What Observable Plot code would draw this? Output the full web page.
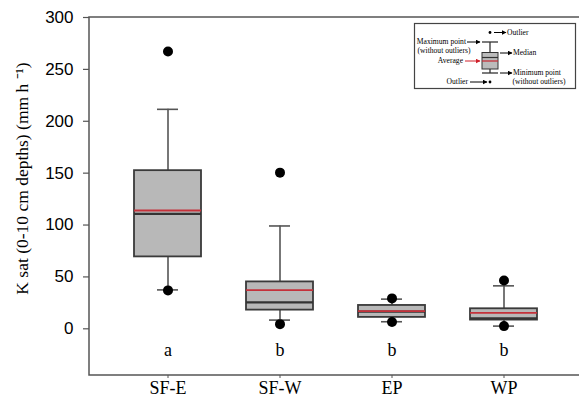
<!DOCTYPE html>
<html>
<head>
<meta charset="utf-8">
<script src="https://cdn.jsdelivr.net/npm/d3@7"></script>
<script src="https://cdn.jsdelivr.net/npm/@observablehq/plot@0.6"></script>
<style>
  html, body { margin: 0; padding: 0; background: #fff; overflow: hidden; }
  #wrap { width: 579px; height: 399px; overflow: hidden; }
  #wrap svg { display: block; }
</style>
</head>
<body>
<div id="wrap"></div>
<script>
// ---- data ----
const categories  = ["SF-E", "SF-W", "EP", "WP"];
const whiskerLow  = [37.5, 8.4, 6.8, 2.6];
const q1          = [69.3, 18.0, 11.0, 8.4];
const median      = [110.7, 25.4, 16.6, 10.0];
const mean        = [114.0, 37.2, 17.0, 15.4];
const q3          = [152.4, 45.2, 22.5, 19.3];
const whiskerHigh = [211.5, 99.1, 28.6, 41.4];
const outlierCat  = ["SF-E", "SF-E", "SF-W", "SF-W", "EP", "EP", "WP", "WP"];
const outlierVal  = [267.3, 37.0, 150.5, 4.5, 29.3, 6.5, 46.6, 2.6];
const letters     = ["a", "b", "b", "b"];
const yTicks      = [0, 50, 100, 150, 200, 250, 300];
const yLabel      = "K sat (0-10 cm depths) (mm h \u207B\u00B9)";

const boxes = categories.map((c, i) => ({
  cat: c, lo: whiskerLow[i], q1: q1[i], med: median[i], mean: mean[i],
  q3: q3[i], hi: whiskerHigh[i], letter: letters[i]
}));
const outliers = outlierCat.map((c, i) => ({cat: c, v: outlierVal[i]}));

const serif = "'Liberation Serif', 'Times New Roman', serif";
const sans = "'Liberation Sans', Arial, sans-serif";
const capInset = 23;

// open frame: top, left and bottom edges only
function openFrame(index, scales, values, dims) {
  const l = dims.marginLeft, r = dims.width - dims.marginRight;
  const t = dims.marginTop, b = dims.height - dims.marginBottom;
  const p = document.createElementNS("http://www.w3.org/2000/svg", "path");
  p.setAttribute("d", `M${r},${t}H${l}V${b}H${r}`);
  p.setAttribute("fill", "none");
  p.setAttribute("stroke", "#555");
  p.setAttribute("stroke-width", 1.5);
  return p;
}

// inset schematic legend, drawn inside the same SVG
function insetLegend() {
  const g = d3.create("svg:g");
  const defs = g.append("defs");
  [["ahK", "#000"], ["ahR", "#d0202a"]].forEach(([id, col]) => {
    defs.append("marker").attr("id", id).attr("viewBox", "0 0 10 10")
      .attr("refX", 9).attr("refY", 5).attr("markerWidth", 5).attr("markerHeight", 5)
      .attr("orient", "auto").append("path").attr("d", "M0,0 L10,5 L0,10 z").attr("fill", col);
  });
  g.append("rect").attr("x", 414.5).attr("y", 23.5).attr("width", 161).attr("height", 65)
    .attr("fill", "#fff").attr("stroke", "#444").attr("stroke-width", 1.2);
  const cx = 490;
  const ln = (x1, y1, x2, y2, col, w) => g.append("line").attr("x1", x1).attr("y1", y1)
    .attr("x2", x2).attr("y2", y2).attr("stroke", col).attr("stroke-width", w);
  ln(cx, 42, cx, 73, "#333", 1.3);
  ln(cx - 8, 42, cx + 8, 42, "#333", 1.3);
  ln(cx - 8, 73, cx + 8, 73, "#333", 1.3);
  g.append("rect").attr("x", 482).attr("y", 52.5).attr("width", 16).attr("height", 16.5)
    .attr("fill", "#bbb").attr("stroke", "#333").attr("stroke-width", 1);
  ln(482, 57.5, 498, 57.5, "#333", 1.2);
  ln(482, 61, 498, 61, "#c4313a", 1.3);
  g.append("circle").attr("cx", cx).attr("cy", 32.5).attr("r", 1.4).attr("fill", "#000");
  g.append("circle").attr("cx", cx).attr("cy", 82).attr("r", 1.4).attr("fill", "#000");
  const arrow = (x1, y1, x2, y2, red) => ln(x1, y1, x2, y2, red ? "#d0202a" : "#000", 1)
    .attr("marker-end", red ? "url(#ahR)" : "url(#ahK)");
  arrow(494, 32.5, 506, 32.5);
  arrow(467, 42, 480, 42);
  arrow(465, 61, 480, 61, true);
  arrow(500, 53, 512, 53);
  arrow(500, 73, 512, 73);
  arrow(470, 82, 487, 82);
  const txt = (t, x, y, anchor) => g.append("text").attr("x", x).attr("y", y)
    .attr("dy", "0.32em").attr("text-anchor", anchor || "start")
    .attr("font-family", serif).attr("font-size", 7.6).attr("fill", "#000").text(t);
  txt("Outlier", 507, 32.5);
  txt("Maximum point", 466, 42, "end");
  txt("(without outliers)", 444, 50.5, "middle");
  txt("Average", 463, 61, "end");
  txt("Median", 513, 53);
  txt("Minimum point", 513, 73);
  txt("(without outliers)", 539, 81.5, "middle");
  txt("Outlier", 468, 82, "end");
  return g.node();
}

const chart = Plot.plot({
  width: 579,
  height: 399,
  marginTop: 17,
  marginBottom: 24,
  marginLeft: 89,
  marginRight: 0,
  style: {background: "#fff", color: "#000", overflow: "hidden"},
  x: {type: "band", domain: categories, range: [89, 582], padding: 0.4},
  y: {domain: [-45, 300]},
  marks: [
    openFrame,
    Plot.axisY({ticks: yTicks, tickSize: 6, tickPadding: 10, label: null,
      fontSize: 17, fontFamily: sans, stroke: "#555", strokeWidth: 1.2}),
    Plot.axisX({tickSize: 3, tickPadding: 3, label: null,
      fontSize: 18, fontFamily: serif, stroke: "#555"}),
    Plot.text([yLabel], {frameAnchor: "left", textAnchor: "middle", dx: -67, dy: -18, rotate: -90,
      fontSize: 17.5, fontFamily: serif, fill: "#000"}),
    Plot.ruleX(boxes, {x: "cat", y1: "lo", y2: "hi", stroke: "#555", strokeWidth: 1.6}),
    Plot.tickY(boxes, {x: "cat", y: "hi", stroke: "#555", strokeWidth: 1.6, insetLeft: capInset, insetRight: capInset}),
    Plot.tickY(boxes, {x: "cat", y: "lo", stroke: "#555", strokeWidth: 1.6, insetLeft: capInset, insetRight: capInset}),
    Plot.barY(boxes, {x: "cat", y1: "q1", y2: "q3", fill: "#b8b8b8", stroke: "#3a3a3a", strokeWidth: 1.8}),
    Plot.tickY(boxes, {x: "cat", y: "med", stroke: "#333", strokeWidth: 2.2}),
    Plot.tickY(boxes, {x: "cat", y: "mean", stroke: "#c4313a", strokeWidth: 1.8}),
    Plot.dot(outliers, {x: "cat", y: "v", r: 5, fill: "#000", stroke: null}),
    Plot.text(boxes, {x: "cat", y: () => -21, text: "letter", fontSize: 18, fontFamily: serif, fill: "#000"}),
    insetLegend
  ]
});
document.getElementById("wrap").appendChild(chart);
</script>
</body>
</html>
